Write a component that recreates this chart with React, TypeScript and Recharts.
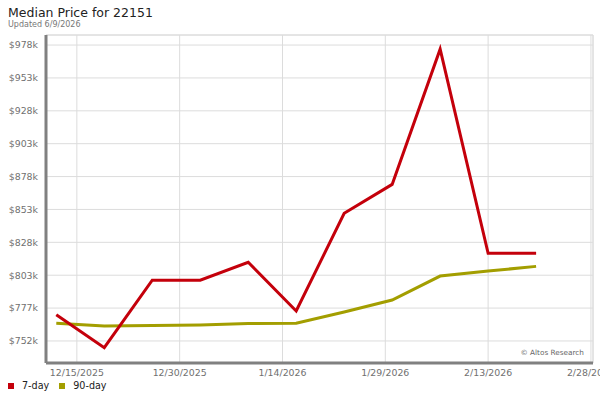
import React from "react";
import { LineChart, Line, XAxis, YAxis, CartesianGrid, ReferenceLine } from "recharts";

const dates = [
  "12/12/2025", "12/19/2025", "12/26/2025", "1/2/2026", "1/9/2026", "1/16/2026",
  "1/23/2026", "1/30/2026", "2/6/2026", "2/13/2026", "2/20/2026",
];
const sevenDay = [772400, 747200, 798700, 798700, 812400, 775200, 849800, 871900, 975200, 819300, 819300];
const ninetyDay = [765800, 763700, 764100, 764500, 765700, 765800, 774500, 783600, 801900, 805700, 809300];

const xTickLabels = ["12/15/2025", "12/30/2025", "1/14/2026", "1/29/2026", "2/13/2026", "2/28/2026"];
const yTickValues = [752330, 777440, 802550, 827660, 852770, 877880, 902990, 928100, 953210, 978320];

const DAY = 86400000;
const parseDate = (s: string) => {
  const [m, d, y] = s.split("/").map(Number);
  return Date.UTC(y, m - 1, d);
};

const xTicks = xTickLabels.map(parseDate);
const xMin = parseDate("12/15/2025") - 4.5 * DAY;
const xMax = parseDate("2/28/2026") + 0.3 * DAY;
const yMin = 735500;
const yMax = 986000;

const data = dates.map((d, i) => ({ t: parseDate(d), seven: sevenDay[i], ninety: ninetyDay[i] }));

const fmtDate = (t: number) => {
  const dt = new Date(t);
  return `${dt.getUTCMonth() + 1}/${dt.getUTCDate()}/${dt.getUTCFullYear()}`;
};
const fmtPrice = (v: number) => `$${Math.round(v / 1000)}k`;

const FONT = "'DejaVu Sans', sans-serif";
const RED = "#c4000b";
const OLIVE = "#a39e00";

export default function App() {
  return (
    <div style={{ position: "absolute", left: 0, top: 0, width: 600, height: 400, background: "#fff", fontFamily: FONT }}>
      <LineChart width={600} height={400} data={data} margin={{ top: 35, right: 7, bottom: 7, left: 0 }}>
        <CartesianGrid stroke="#dcdcdc" strokeWidth={1} />
        <XAxis
          dataKey="t"
          type="number"
          domain={[xMin, xMax]}
          ticks={xTicks}
          tickFormatter={fmtDate}
          allowDataOverflow
          height={30}
          tickLine={false}
          tickSize={6}
          tickMargin={0}
          axisLine={{ stroke: "#808080", strokeWidth: 3 }}
          tick={{ fill: "#707070", fontSize: 9.4, fontFamily: FONT }}
          interval={0}
        />
        <YAxis
          type="number"
          domain={[yMin, yMax]}
          ticks={yTickValues}
          tickFormatter={fmtPrice}
          allowDataOverflow
          width={46}
          tickLine={false}
          tickSize={6}
          tickMargin={2}
          axisLine={{ stroke: "#808080", strokeWidth: 3 }}
          tick={{ fill: "#707070", fontSize: 9.4, fontFamily: FONT }}
          interval={0}
        />
        <ReferenceLine y={yMax} stroke="#dcdcdc" strokeWidth={1} />
        <ReferenceLine x={xMax} stroke="#dcdcdc" strokeWidth={1} />
        <Line type="linear" dataKey="ninety" stroke={OLIVE} strokeWidth={3} dot={false} isAnimationActive={false} />
        <Line type="linear" dataKey="seven" stroke={RED} strokeWidth={3} dot={false} isAnimationActive={false} />
      </LineChart>
      <div style={{ position: "absolute", left: 8, top: 5, fontSize: 12.5, color: "#222", lineHeight: "15px", whiteSpace: "nowrap" }}>
        Median Price for 22151
      </div>
      <div style={{ position: "absolute", left: 8, top: 20, fontSize: 8, color: "#777", lineHeight: "9px", whiteSpace: "nowrap" }}>
        Updated 6/9/2026
      </div>
      <div style={{ position: "absolute", right: 14, top: 348, fontSize: 7.3, color: "#666", lineHeight: "10px", whiteSpace: "nowrap", background: "#fff", padding: "0 2px" }}>
        © Altos Research
      </div>
      <div style={{ position: "absolute", left: 8, top: 380, display: "flex", alignItems: "center", fontSize: 9.6, color: "#222", lineHeight: "12px", whiteSpace: "nowrap" }}>
        <span style={{ display: "inline-block", width: 6, height: 6, background: RED, marginRight: 8 }} />
        <span style={{ marginRight: 10 }}>7-day</span>
        <span style={{ display: "inline-block", width: 6, height: 6, background: OLIVE, marginRight: 8 }} />
        <span>90-day</span>
      </div>
    </div>
  );
}
